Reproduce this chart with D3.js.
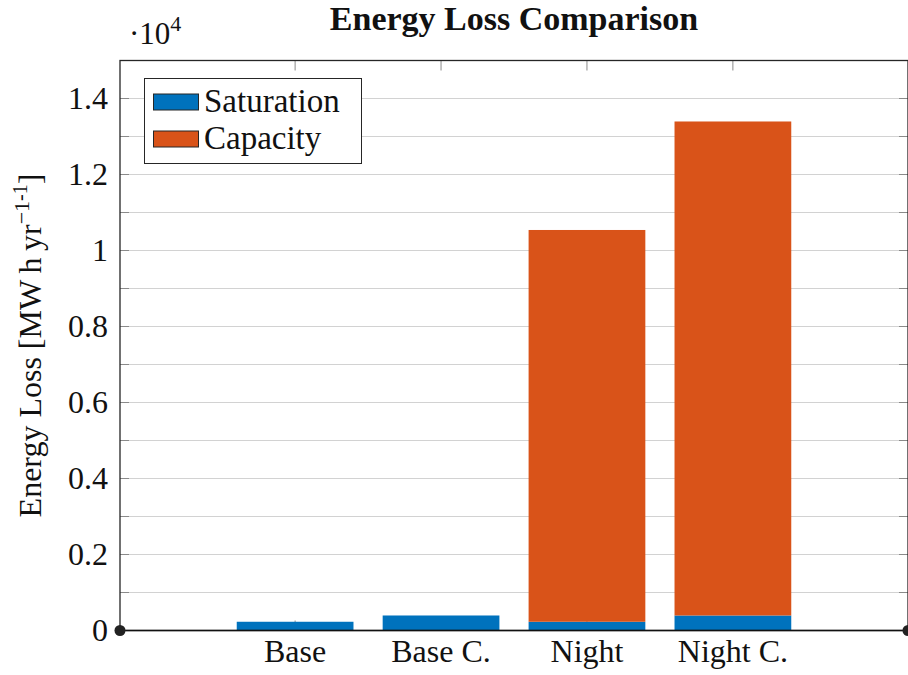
<!DOCTYPE html>
<html>
<head>
<meta charset="utf-8">
<script src="https://cdn.jsdelivr.net/npm/d3@7"></script>
<style>
  body { margin: 0; background: #fff; }
</style>
</head>
<body>
<svg id="chart" width="908" height="675" font-family="Liberation Serif, serif"></svg>
<script>
// stacked bars, values in MWh per year
var categories = ["Base", "Base C.", "Night", "Night C."];
var saturation = [230, 395, 230, 395];
var capacity = [0, 0, 10310, 13000];
var seriesNames = ["Saturation", "Capacity"];
var seriesColors = ["#0072BD", "#D95319"];
var yTickValues = [0, 0.2, 0.4, 0.6, 0.8, 1, 1.2, 1.4];
var yGridValues = d3.range(0, 15).map(function (i) { return i / 10; });

(function () {
  var svg = d3.select("#chart");
  var pLeft = 120, pRight = 908, pTop = 60.5, pBottom = 630.5;

  var x = d3.scaleLinear().domain([-0.2, 5.2]).range([pLeft, pRight]);
  var y = d3.scaleLinear().domain([0, 1.5]).range([pBottom, pTop]);

  var rows = categories.map(function (c, i) {
    return { cat: c, pos: i + 1, Saturation: saturation[i] / 1e4, Capacity: capacity[i] / 1e4 };
  });
  var stacked = d3.stack().keys(seriesNames)(rows);

  // grid
  svg.append("g").selectAll("line")
    .data(yGridValues.filter(function (d) { return d > 0; }))
    .enter().append("line")
      .attr("x1", pLeft).attr("x2", pRight)
      .attr("y1", function (d) { return y(d); })
      .attr("y2", function (d) { return y(d); })
      .attr("stroke", "#d2d2d2").attr("stroke-width", 1);

  // ticks (inward)
  var ticks = svg.append("g").attr("stroke", "#8a8a8a").attr("stroke-width", 1);
  yGridValues.forEach(function (d) {
    ticks.append("line").attr("x1", pLeft).attr("x2", pLeft + 9).attr("y1", y(d)).attr("y2", y(d));
    ticks.append("line").attr("x1", pRight - 9).attr("x2", pRight).attr("y1", y(d)).attr("y2", y(d));
  });
  rows.forEach(function (r) {
    ticks.append("line").attr("x1", x(r.pos)).attr("x2", x(r.pos)).attr("y1", pTop).attr("y2", pTop + 10);
    ticks.append("line").attr("x1", x(r.pos)).attr("x2", x(r.pos)).attr("y1", pBottom).attr("y2", pBottom - 10);
  });

  // bars
  svg.append("g").selectAll("g")
    .data(stacked).enter().append("g")
      .attr("fill", function (d, i) { return seriesColors[i]; })
    .selectAll("rect")
    .data(function (d) { return d; })
    .enter().append("rect")
      .attr("x", function (d) { return x(d.data.pos - 0.4); })
      .attr("width", x(0.8) - x(0))
      .attr("y", function (d) { return y(d[1]); })
      .attr("height", function (d) { return y(d[0]) - y(d[1]); });

  // frame
  svg.append("rect")
    .attr("x", pLeft).attr("y", pTop)
    .attr("width", pRight - pLeft).attr("height", pBottom - pTop)
    .attr("fill", "none").attr("stroke", "#262626").attr("stroke-width", 1.3);

  // zero line with end markers
  svg.append("line")
    .attr("x1", x(x.domain()[0])).attr("x2", x(x.domain()[1]))
    .attr("y1", y(0)).attr("y2", y(0))
    .attr("stroke", "#111").attr("stroke-width", 1.5);
  svg.append("g").selectAll("circle")
    .data(x.domain()).enter().append("circle")
      .attr("cx", function (d) { return x(d); })
      .attr("cy", y(0)).attr("r", 5.5)
      .attr("fill", "#222");

  // tick labels
  svg.append("g").selectAll("text")
    .data(yTickValues).enter().append("text")
      .attr("x", 108).attr("y", function (d) { return y(d); })
      .attr("dy", "0.34em")
      .attr("text-anchor", "end")
      .attr("font-size", 32).attr("fill", "#111")
      .text(function (d) { return d3.format("~g")(d); });

  svg.append("g").selectAll("text")
    .data(rows).enter().append("text")
      .attr("x", function (d) { return x(d.pos); })
      .attr("y", 662)
      .attr("text-anchor", "middle")
      .attr("font-size", 32).attr("fill", "#111")
      .text(function (d) { return d.cat; });

  // multiplier
  var mult = svg.append("text").attr("x", 129).attr("y", 44).attr("font-size", 31).attr("fill", "#111");
  mult.append("tspan").text("\u00b710");
  mult.append("tspan").attr("dy", -13).attr("font-size", 22).text("4");

  // title
  svg.append("text")
    .attr("x", (pLeft + pRight) / 2).attr("y", 30)
    .attr("text-anchor", "middle")
    .attr("font-size", 34).attr("font-weight", "bold").attr("fill", "#111")
    .text("Energy Loss Comparison");

  // y label
  var yl = svg.append("text")
    .attr("transform", "translate(41," + ((pTop + pBottom) / 2) + ") rotate(-90)")
    .attr("text-anchor", "middle")
    .attr("font-size", 32).attr("fill", "#111");
  yl.append("tspan").text("Energy Loss [MW\u2009h\u2009yr");
  yl.append("tspan").attr("dy", -12).attr("font-size", 22).text("\u22121");
  yl.append("tspan").attr("dy", -2).attr("font-size", 20).text("-1");
  yl.append("tspan").attr("dy", 14).attr("font-size", 32).text("]");

  // legend
  var lg = svg.append("g");
  lg.append("rect")
    .attr("x", 144.5).attr("y", 78.5).attr("width", 217).attr("height", 85)
    .attr("fill", "#fff").attr("stroke", "#262626").attr("stroke-width", 1);
  seriesNames.forEach(function (name, i) {
    var cy = 102 + i * 37;
    lg.append("rect")
      .attr("x", 153.5).attr("y", cy - 8).attr("width", 45).attr("height", 16)
      .attr("fill", seriesColors[i]).attr("stroke", "#262626").attr("stroke-width", 1);
    lg.append("text")
      .attr("x", 204).attr("y", cy + 10)
      .attr("font-size", 33).attr("fill", "#111")
      .text(name);
  });
})();
</script>
</body>
</html>
